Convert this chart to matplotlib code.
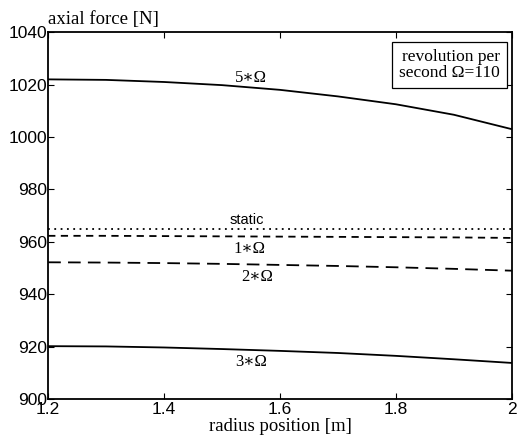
""" Axial force vs radius position """

import numpy as np
import matplotlib
matplotlib.use("Agg")
import matplotlib.pyplot as plt

# radius position [m]
radius = [1.2, 1.3, 1.4, 1.5, 1.6, 1.7, 1.8, 1.9, 2.0]

# axial force [N] per case
force_5 = [1022, 1021.8, 1021, 1019.8, 1018, 1015.5, 1012.5, 1008.5, 1003]
force_static = [965, 965, 965, 965, 965, 965, 965, 965, 965]
force_1 = [962.3, 962.3, 962.2, 962.1, 962, 961.9, 961.8, 961.7, 961.5]
force_2 = [952.2, 952.1, 951.9, 951.6, 951.2, 950.8, 950.3, 949.7, 949]
force_3 = [920.2, 920.1, 919.7, 919.1, 918.4, 917.6, 916.5, 915.2, 913.8]

xticks = [1.2, 1.4, 1.6, 1.8, 2.0]
xtick_labels = ["1.2", "1.4", "1.6", "1.8", "2"]
yticks = [900, 920, 940, 960, 980, 1000, 1020, 1040]


def main():
    """ Main """
    plt.rcParams['font.family'] = ['Liberation Sans', 'DejaVu Sans']
    fig = plt.figure(figsize=(5.18, 4.41), dpi=100)
    ax = fig.add_axes([0.093, 0.095, 0.895, 0.832])

    lw = 1.3
    ax.plot(radius, force_5, color='k', lw=lw)
    ax.plot(radius, force_static, color='k', lw=lw, linestyle=(0, (1, 2.5)))
    ax.plot(radius, force_1, color='k', lw=lw, linestyle=(0, (4, 3)))
    ax.plot(radius, force_2, color='k', lw=lw, linestyle=(0, (7, 4)))
    ax.plot(radius, force_3, color='k', lw=lw)

    serif = ['Liberation Serif', 'DejaVu Serif']
    ax.text(1.55, 1019.3, "5\u2217\u03a9", family=serif, fontsize=12,
            ha='center', va='bottom')
    ax.text(1.543, 965.8, "static", fontsize=10.5, ha='center', va='bottom')
    ax.text(1.548, 960.3, "1\u2217\u03a9", family=serif, fontsize=12,
            ha='center', va='top')
    ax.text(1.56, 949.6, "2\u2217\u03a9", family=serif, fontsize=12,
            ha='center', va='top')
    ax.text(1.55, 917.2, "3\u2217\u03a9", family=serif, fontsize=12,
            ha='center', va='top')

    ax.text(0.975, 0.953, "revolution per\nsecond \u03a9=110",
            transform=ax.transAxes, family=serif, fontsize=12.5,
            ha='right', va='top', linespacing=1.0,
            bbox=dict(boxstyle='square,pad=0.4', fc='white', ec='k', lw=0.9))

    ax.set_xlim(1.2, 2.0)
    ax.set_ylim(900, 1040)
    ax.set_xticks(xticks)
    ax.set_xticklabels(xtick_labels)
    ax.set_yticks(yticks)
    ax.tick_params(direction='in', length=4, labelsize=12.5, pad=1,
                   top=True, right=True)
    ax.tick_params(axis='x', pad=2)
    for s in ax.spines.values():
        s.set_linewidth(1.3)

    ax.set_xlabel("radius position [m]", family=serif, fontsize=13.5,
                  labelpad=1)
    ax.text(0.0, 1.012, "axial force [N]", transform=ax.transAxes,
            family=serif, fontsize=13.5, ha='left', va='bottom')

    fig.savefig("out.png", dpi=100)


if __name__ == '__main__':
    main()
